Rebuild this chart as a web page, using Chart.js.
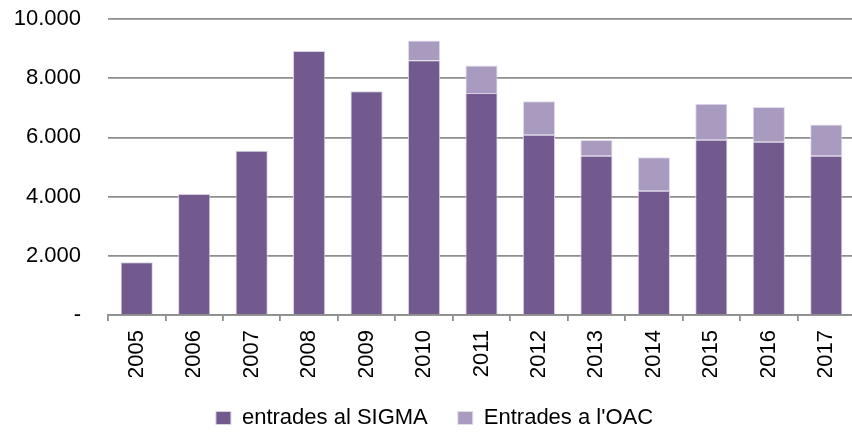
<!DOCTYPE html>
<html>
<head>
<meta charset="utf-8">
<script src="https://cdn.jsdelivr.net/npm/chart.js@4"></script>
<style>
  html, body { margin: 0; padding: 0; background: #fff; overflow: hidden; }
  /* a bit wider than the window: the plot runs off the right edge like the original */
  #wrap { width: 855px; height: 433px; }
</style>
</head>
<body>
<div id="wrap"><canvas id="entradesChart"></canvas></div>
<script>
const years = ['2005', '2006', '2007', '2008', '2009', '2010', '2011', '2012', '2013', '2014', '2015', '2016', '2017'];
const sigma = [1780, 4090, 5550, 8920, 7560, 8610, 7500, 6090, 5380, 4200, 5920, 5850, 5380];
const oac = [0, 0, 0, 0, 0, 660, 930, 1130, 530, 1130, 1220, 1180, 1060];
const yMax = 10000;
const yStep = 2000;

function fmt(v) {
    if (v === 0) return '-';
    return v.toString().replace(/\B(?=(\d{3})+(?!\d))/g, '.');
}

document.addEventListener('DOMContentLoaded', () => {
    const ctx = document.getElementById('entradesChart').getContext('2d');
    const font = 'Liberation Sans, Arial, sans-serif';

    new Chart(ctx, {
        type: 'bar',
        data: {
            labels: years,
            datasets: [{
                label: 'entrades al SIGMA',
                data: sigma,
                backgroundColor: '#725a8e',
                borderColor: '#d9d1e3',
                borderWidth: 1,
                borderSkipped: 'bottom',
                barPercentage: 0.56,
                categoryPercentage: 1
            }, {
                label: "Entrades a l'OAC",
                data: oac,
                backgroundColor: '#a99bbf',
                borderColor: '#e3dcec',
                borderWidth: 1,
                borderSkipped: 'bottom',
                barPercentage: 0.56,
                categoryPercentage: 1
            }]
        },
        options: {
            responsive: true,
            maintainAspectRatio: false,
            animation: false,
            layout: {
                padding: { left: 14, right: 0, top: 0, bottom: -6 }
            },
            scales: {
                x: {
                    stacked: true,
                    offset: true,
                    grid: {
                        offset: true,
                        drawOnChartArea: false,
                        drawTicks: true,
                        tickLength: 6,
                        color: '#8e8e8e',
                        lineWidth: 1.8
                    },
                    border: { display: true, color: '#8e8e8e', width: 1.8 },
                    ticks: {
                        color: '#000',
                        font: { family: font, size: 22 },
                        minRotation: 90,
                        maxRotation: 90,
                        padding: 9
                    },
                    afterFit: (scale) => {
                        scale.height = 62;
                        scale.paddingLeft = 0;
                        scale.paddingRight = 0;
                    }
                },
                y: {
                    stacked: true,
                    min: 0,
                    max: yMax,
                    grid: {
                        color: '#8e8e8e',
                        lineWidth: 1.8,
                        drawTicks: false
                    },
                    border: { display: false },
                    ticks: {
                        stepSize: yStep,
                        color: '#000',
                        padding: 27,
                        font: { family: font, size: 22 },
                        callback: (v) => fmt(v)
                    },
                    // tick padding also pads top/bottom, so pin those here
                    afterFit: (scale) => {
                        scale.width = 94;
                        scale.paddingTop = 19;
                        scale.paddingBottom = 0;
                    }
                }
            },
            plugins: {
                legend: {
                    position: 'bottom',
                    labels: {
                        color: '#000',
                        font: { family: font, size: 22 },
                        boxWidth: 15,
                        boxHeight: 13,
                        padding: 30
                    }
                },
                tooltip: { enabled: false }
            }
        }
    });
});
</script>
</body>
</html>
